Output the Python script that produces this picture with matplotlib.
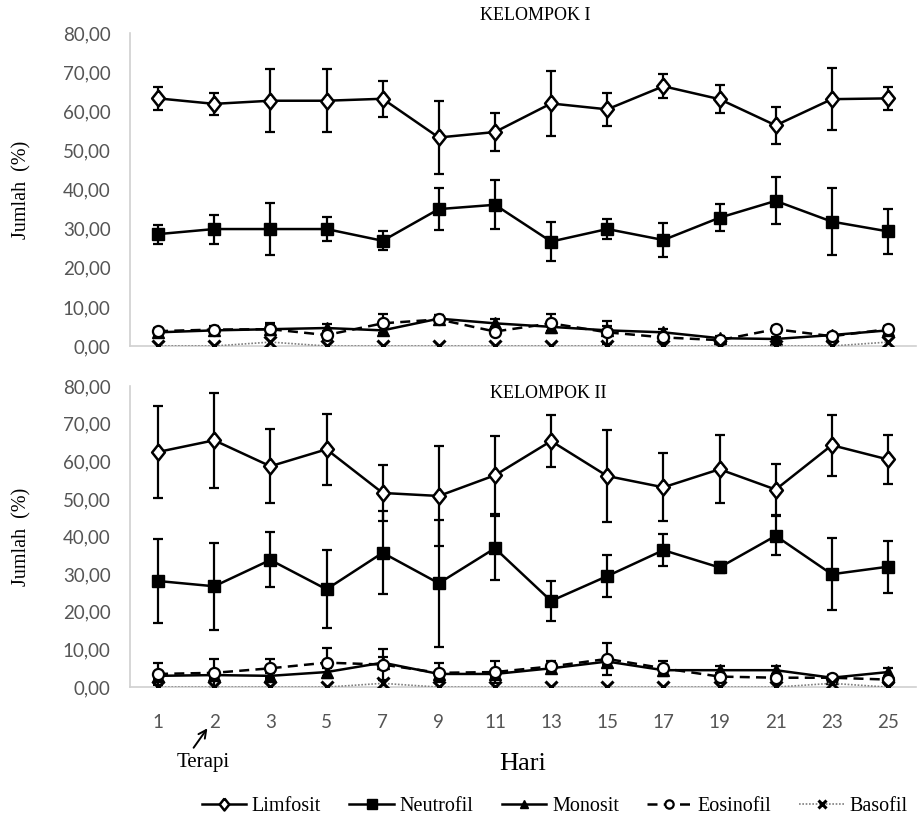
import matplotlib
matplotlib.use("Agg")
import matplotlib.pyplot as plt
from matplotlib.ticker import FuncFormatter, MultipleLocator
import numpy as np

# ---------------- data ----------------
days = ["1", "2", "3", "5", "7", "9", "11", "13", "15", "17", "19", "21", "23", "25"]

# KELOMPOK I
k1_limfosit = [63.3, 61.9, 62.7, 62.7, 63.2, 53.3, 54.7, 62.0, 60.5, 66.4, 63.1, 56.4, 63.1, 63.3]
k1_limfosit_sd = [3.0, 2.8, 8.0, 8.0, 4.6, 9.3, 4.8, 8.2, 4.2, 3.1, 3.5, 4.8, 8.0, 3.0]
k1_neutrofil = [28.6, 29.9, 29.9, 29.9, 26.9, 35.0, 36.1, 26.7, 29.9, 27.1, 32.8, 37.1, 31.8, 29.3]
k1_neutrofil_sd = [2.4, 3.7, 6.6, 3.0, 2.4, 5.4, 6.3, 4.9, 2.5, 4.3, 3.4, 6.0, 8.5, 5.7]
k1_monosit = [3.5, 4.0, 4.3, 4.6, 4.0, 7.0, 5.8, 4.9, 4.0, 3.5, 2.0, 1.8, 2.8, 4.0]
k1_monosit_sd = [0.8, 0.8, 1.0, 1.0, 1.2, 1.0, 1.0, 1.0, 1.0, 0.8, 0.6, 0.6, 0.6, 0.8]
k1_eosinofil = [3.8, 4.2, 4.3, 2.8, 5.8, 6.8, 3.7, 5.8, 3.5, 2.2, 1.5, 4.3, 2.5, 4.3]
k1_eosinofil_sd = [0.8, 0.8, 1.5, 1.0, 2.4, 1.0, 1.0, 2.4, 3.0, 0.8, 0.6, 0.8, 0.6, 0.8]
k1_basofil = [0.0, 0.0, 1.0, 0.0, 0.0, 0.0, 0.0, 0.0, 0.0, 0.0, 0.0, 0.0, 0.0, 1.0]

# KELOMPOK II
k2_limfosit = [62.5, 65.6, 58.7, 63.2, 51.6, 50.8, 56.3, 65.4, 56.1, 53.1, 57.9, 52.5, 64.3, 60.5]
k2_limfosit_sd = [12.2, 12.6, 9.9, 9.5, 7.4, 13.3, 10.4, 7.0, 12.2, 9.0, 9.0, 6.8, 8.1, 6.4]
k2_neutrofil = [28.2, 26.8, 33.8, 26.0, 35.7, 27.6, 36.9, 22.9, 29.5, 36.4, 31.8, 40.2, 30.0, 32.0]
k2_neutrofil_sd = [11.2, 11.5, 7.3, 10.4, 11.0, 16.9, 8.5, 5.4, 5.5, 4.2, 1.5, 5.2, 9.6, 6.9]
k2_monosit = [3.0, 3.2, 3.0, 4.0, 6.5, 3.5, 3.5, 5.0, 6.8, 4.5, 4.5, 4.5, 2.5, 4.0]
k2_monosit_sd = [0.8, 0.8, 0.8, 1.0, 1.5, 0.8, 0.8, 1.0, 1.0, 1.0, 1.0, 1.0, 0.6, 1.0]
k2_eosinofil = [3.5, 3.8, 5.0, 6.5, 6.0, 3.8, 4.0, 5.5, 7.5, 5.0, 2.8, 2.5, 2.5, 2.0]
k2_eosinofil_sd = [3.0, 3.7, 2.5, 4.0, 4.2, 2.5, 3.0, 1.5, 4.3, 2.0, 1.0, 1.0, 0.8, 1.0]
k2_basofil = [0.0, 0.0, 0.0, 0.0, 1.0, 0.0, 0.0, 0.0, 0.0, 0.0, 0.0, 0.0, 1.0, 0.0]

series_names = ["Limfosit", "Neutrofil", "Monosit", "Eosinofil", "Basofil"]

# ---------------- style ----------------
SERIF = ["Liberation Serif", "DejaVu Serif"]
SANS = ["Lato", "DejaVu Sans"]
TICK_COLOR = "#555555"
SPINE_COLOR = "#d0d0d0"
DIAMOND = [(0, 1), (0.8, 0), (0, -1), (-0.8, 0), (0, 1)]

fig = plt.figure(figsize=(9.2, 8.18), dpi=100)
ax1 = fig.add_axes([0.1413, 0.577, 0.8544, 0.3826])
ax2 = fig.add_axes([0.1413, 0.160, 0.8544, 0.368])

x = np.arange(len(days))

def draw(ax, lim, lim_sd, neu, neu_sd, mon, mon_sd, eos, eos_sd, bas):
    eb = dict(fmt="none", ecolor="black", elinewidth=1.6, capsize=3.5, capthick=1.6)
    ax.errorbar(x, lim, yerr=lim_sd, zorder=2, **eb)
    ax.errorbar(x, neu, yerr=neu_sd, zorder=2, **eb)
    ax.errorbar(x, mon, yerr=mon_sd, zorder=2, **eb)
    ax.errorbar(x, eos, yerr=eos_sd, zorder=2, **eb)
    h = []
    h += ax.plot(x, lim, color="black", lw=1.8, marker=DIAMOND, markersize=11.5,
                 markerfacecolor="white", markeredgecolor="black", markeredgewidth=1.8,
                 label=series_names[0], zorder=4)
    h += ax.plot(x, neu, color="black", lw=1.8, marker="s", markersize=9,
                 markerfacecolor="black", markeredgecolor="black",
                 label=series_names[1], zorder=4)
    h += ax.plot(x, mon, color="black", lw=1.8, marker="^", markersize=8.5,
                 markerfacecolor="black", markeredgecolor="black",
                 label=series_names[2], zorder=3)
    h += ax.plot(x, eos, color="black", lw=1.8, ls=(0, (4, 2.5)), marker="o", markersize=8,
                 markerfacecolor="white", markeredgecolor="black", markeredgewidth=1.6,
                 label=series_names[3], zorder=4)
    h += ax.plot(x, bas, color="#7f7f7f", lw=1.2, ls=(0, (1, 1)), marker="x", markersize=8.5,
                 markeredgecolor="black", markeredgewidth=2.2,
                 label=series_names[4], zorder=5)
    ax.set_xlim(-0.5, len(days) - 0.5)
    ax.set_ylim(0, 80)
    ax.yaxis.set_major_locator(MultipleLocator(10))
    ax.yaxis.set_major_formatter(FuncFormatter(lambda v, p: f"{v:.2f}".replace(".", ",")))
    for s in ["top", "right"]:
        ax.spines[s].set_visible(False)
    ax.spines["left"].set_color(SPINE_COLOR)
    ax.spines["bottom"].set_color(SPINE_COLOR)
    ax.spines["left"].set_linewidth(1.2)
    ax.spines["bottom"].set_linewidth(1.2)
    ax.tick_params(axis="both", length=0, colors=TICK_COLOR, labelsize=13.5)
    ax.tick_params(axis="y", pad=14)
    for lab in ax.get_yticklabels():
        lab.set_fontfamily(SANS)
    ax.set_ylabel("Jumlah  (%)", fontsize=14.5, family=SERIF)
    ax.yaxis.set_label_coords(-0.125, 0.5)
    ax.set_xticks(x)
    return h

handles = draw(ax1, k1_limfosit, k1_limfosit_sd, k1_neutrofil, k1_neutrofil_sd,
               k1_monosit, k1_monosit_sd, k1_eosinofil, k1_eosinofil_sd, k1_basofil)
draw(ax2, k2_limfosit, k2_limfosit_sd, k2_neutrofil, k2_neutrofil_sd,
     k2_monosit, k2_monosit_sd, k2_eosinofil, k2_eosinofil_sd, k2_basofil)

ax1.set_xticklabels([])
ax2.set_xticklabels(days)
for lab in ax2.get_xticklabels():
    lab.set_fontfamily(SANS)
ax2.tick_params(axis="x", pad=19)
ax2.set_xlabel("Hari", fontsize=19, family=SERIF, labelpad=16)

ax1.text(0.515, 1.057, "KELOMPOK I", transform=ax1.transAxes, ha="center", va="center",
         fontsize=13, family=SERIF)
ax2.text(0.532, 0.975, "KELOMPOK II", transform=ax2.transAxes, ha="center", va="center",
         fontsize=13, family=SERIF)

# Terapi annotation
fig.text(203 / 920, 1 - 762 / 818, "Terapi", ha="center", va="center", fontsize=15, family=SERIF)
fig.patches.append(matplotlib.patches.FancyArrowPatch(
    (192 / 920, 1 - 750 / 818), (209 / 920, 1 - 726 / 818), transform=fig.transFigure,
    arrowstyle="->", mutation_scale=14, lw=1.4, color="black"))

fig.legend(handles=handles, labels=series_names, loc="center", bbox_to_anchor=(0.603, 0.014),
           ncol=5, frameon=False, prop={"family": SERIF, "size": 14.5},
           handlelength=2.2, columnspacing=1.4, handletextpad=0.3, markerscale=0.75)

fig.savefig("out.png", dpi=100)
